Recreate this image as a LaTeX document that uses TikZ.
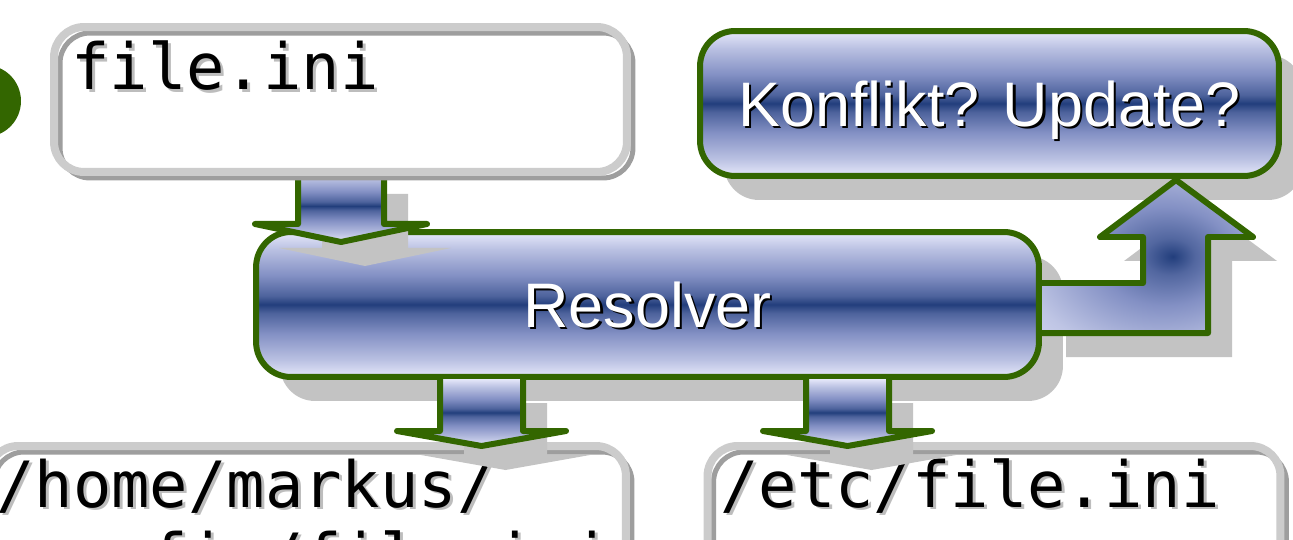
\documentclass[tikz,border=0pt]{standalone}
\usepackage{fontspec}
\setmainfont{Liberation Sans}
\newfontfamily\monof{DejaVu Sans Mono}
\usetikzlibrary{shadows}
\definecolor{grn}{HTML}{336600}
\definecolor{shd}{HTML}{C3C3C3}
\definecolor{lgray}{HTML}{CCCCCC}
\definecolor{dgray}{HTML}{9E9E9E}
\definecolor{txtshd}{HTML}{BDBDBD}
\definecolor{lav}{HTML}{E6E8FA}
\definecolor{midb}{HTML}{8390C4}
\definecolor{navyb}{HTML}{223E7C}
\pgfdeclareverticalshading{bluebar}{100bp}{color(0bp)=(lav); color(25bp)=(lav); color(31bp)=(midb!45!lav); color(40bp)=(midb); color(47bp)=(midb!45!navyb); color(50bp)=(navyb); color(53bp)=(midb!45!navyb); color(60bp)=(midb); color(69bp)=(midb!45!lav); color(75bp)=(lav); color(100bp)=(lav)}
\pgfdeclareradialshading{bluerad}{\pgfpoint{6bp}{0bp}}{color(0bp)=(navyb); color(6bp)=(midb!50!navyb); color(16bp)=(midb); color(32bp)=(midb!40!lav); color(50bp)=(lav)}
\newcommand{\shtext}[3]{\makebox[0pt][l]{\kern#3\raisebox{-#3}{\textcolor{#1}{#2}}}#2}
\tikzset{
  bluebox/.style={draw=grn, line width=0.12cm, rounded corners=0.7cm, shade, shading=bluebar,
    inner sep=0pt, minimum height=2.9cm, text=white, text depth=0pt, font=\fontsize{35.8pt}{43pt}\selectfont,
    general shadow={fill=shd, shadow xshift=0.48cm, shadow yshift=-0.48cm}},
  graybox/.style={fill=white, rounded corners=0.6cm, inner sep=0pt,
    postaction={draw=dgray, line width=0.1cm, transform canvas={shift={(0.12cm,-0.12cm)}}},
    postaction={draw=lgray, line width=0.16cm}},
  monotext/.style={inner sep=0pt, anchor=base west, font=\monof\fontsize{36.3pt}{42pt}\selectfont},
  arrowshade/.style={shading=bluebar},
  arrowline/.style={draw=grn, line width=0.12cm, line join=round, line cap=round},
  shadowfill/.style={fill=shd}
}
\begin{document}
\begin{tikzpicture}[x=0.02cm, y=-0.02cm]
\useasboundingbox (0,0) rectangle (1293,540);
\clip (0,0) rectangle (1293,540);

% Konflikt box
\node[bluebox, minimum width=11.58cm] (konf) at (989.5,103.5) {\shtext{black}{Konflikt? Update?}{1.3pt}};

% Resolver box
\node[bluebox, minimum width=15.66cm] (res) at (647.5,304.5) {\shtext{black}{Resolver}{1.3pt}};

% bottom boxes
\node[graybox, minimum width=12.76cm, minimum height=4.08cm] (hbox) at (307,548) {};
\node[graybox, minimum width=11.46cm, minimum height=4.08cm] (ebox) at (994,548) {};
\node[monotext] (h1) at (-4,507) {\shtext{txtshd}{/home/markus/}{1.7pt}};
\node[monotext] (h2) at (-4,579) {\shtext{txtshd}{.config/file.ini}{1.7pt}};
\node[monotext] (e1) at (720,507) {\shtext{txtshd}{/etc/file.ini}{1.7pt}};

% arrow file.ini -> Resolver
\fill[shadowfill] (322,194) -- (322,248) -- (279,248) -- (365,266) -- (451,248) -- (408,248) -- (408,194) -- cycle;
\shade[arrowshade] (298,170) -- (298,224) -- (255,224) -- (341,242) -- (427,224) -- (384,224) -- (384,170) -- cycle;
\draw[arrowline] (298,170) -- (298,224) -- (255,224) -- (341,242) -- (427,224) -- (384,224) -- (384,170);

% file.ini box
\node[graybox, minimum width=11.46cm, minimum height=2.9cm] (fbox) at (340.5,99.5) {};
\node[monotext] (ftxt) at (71,90) {\shtext{txtshd}{file.ini}{1.7pt}};

% arrows Resolver -> bottom boxes
\fill[shadowfill] (464,403) -- (464,455) -- (421,455) -- (505.5,470) -- (590,455) -- (547,455) -- (547,403) -- cycle;
\shade[arrowshade] (440,379) -- (440,431) -- (397,431) -- (481.5,446) -- (566,431) -- (523,431) -- (523,379) -- cycle;
\draw[arrowline] (440,379) -- (440,431) -- (397,431) -- (481.5,446) -- (566,431) -- (523,431) -- (523,379);

\fill[shadowfill] (830,403) -- (830,455) -- (787,455) -- (871.5,470) -- (956,455) -- (913,455) -- (913,403) -- cycle;
\shade[arrowshade] (806,379) -- (806,431) -- (763,431) -- (847.5,446) -- (932,431) -- (889,431) -- (889,379) -- cycle;
\draw[arrowline] (806,379) -- (806,431) -- (763,431) -- (847.5,446) -- (932,431) -- (889,431) -- (889,379);

% L arrow Resolver -> Konflikt
\fill[shadowfill] (1066,307) -- (1167,307) -- (1167,261) -- (1124,261) -- (1200,204) -- (1277,261) -- (1232,261) -- (1232,357) -- (1066,357) -- cycle;
\shade[shading=bluerad] (1042,283) -- (1143,283) -- (1143,237) -- (1100,237) -- (1176,180) -- (1253,237) -- (1208,237) -- (1208,333) -- (1042,333) -- cycle;
\draw[arrowline] (1042,283) -- (1143,283) -- (1143,237) -- (1100,237) -- (1176,180) -- (1253,237) -- (1208,237) -- (1208,333) -- (1042,333);

% green dot
\node[circle, fill=grn, minimum size=1.44cm, inner sep=0pt] (dot) at (-15,101) {};
\end{tikzpicture}
\end{document}
